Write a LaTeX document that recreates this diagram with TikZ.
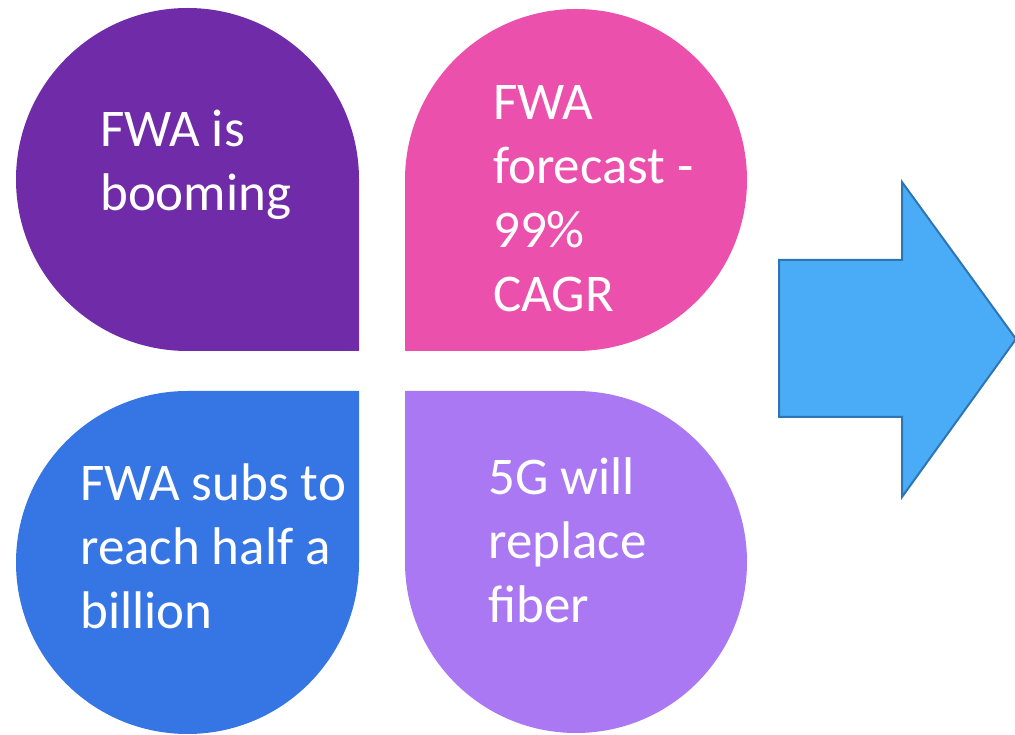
\documentclass[tikz,border=0pt]{standalone}
\usepackage{fontspec}
\setmainfont{Carlito}
\usetikzlibrary{positioning}
\definecolor{petalPurple}{RGB}{112,44,168}
\definecolor{petalPink}{RGB}{235,80,172}
\definecolor{petalBlue}{RGB}{54,117,228}
\definecolor{petalLilac}{RGB}{170,120,242}
\definecolor{arrowFill}{RGB}{74,172,246}
\definecolor{arrowEdge}{RGB}{46,117,182}
\tikzset{
  % base anchor sits on the last line
  petaltext/.style={anchor=base west, align=left, text=white,
    font=\fontsize{53}{64}\selectfont, inner sep=0pt}
}

\begin{document}
\begin{tikzpicture}[x=1pt, y=1pt]
    \useasboundingbox (0,0) rectangle (1015,734);
    % Four petals: three round corners, square corner to the middle
    \fill[petalPurple] (359,383) -- (359,554.5) arc[start angle=0, end angle=270, radius=171.5] -- cycle;
    \fill[petalPink] (405,383) -- (576,383) arc[start angle=-90, end angle=180, radius=171] -- cycle;
    \fill[petalBlue] (359,343) -- (187.5,343) arc[start angle=90, end angle=360, radius=171.5] -- cycle;
    \fill[petalLilac] (405,343) -- (405,172) arc[start angle=180, end angle=450, radius=171] -- cycle;
    % Petal texts
    \node[petaltext] (boom) at (100,523) {FWA is\\booming};
    \node[petaltext] (forecast) at (493,422) {FWA\\forecast -\\99\%\\CAGR};
    \node[petaltext] (subs) at (80,105) {FWA subs to\\reach half a\\billion};
    \node[petaltext] (fiber) at (488,111) {5G will\\replace\\fiber};
    % Block arrow on the right
    \draw[arrowEdge, fill=arrowFill, line width=2pt, line join=miter]
      (779,317) -- (779,474) -- (902,474) -- (902,552) -- (1016,395)
      -- (902,237) -- (902,317) -- cycle;
  \end{tikzpicture}
\end{document}
